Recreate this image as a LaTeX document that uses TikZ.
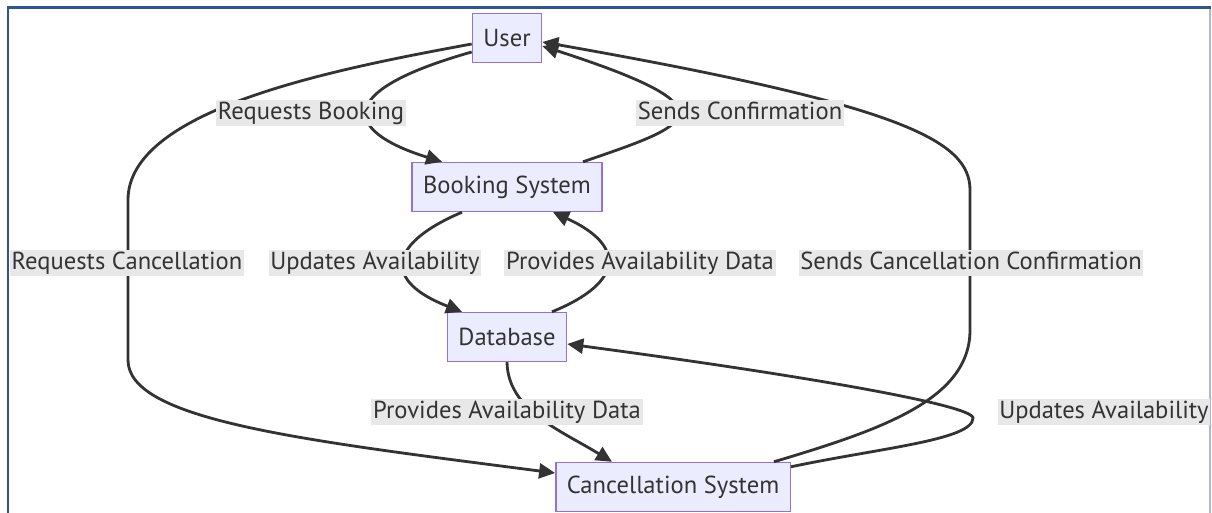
\documentclass[tikz,border=0pt]{standalone}
\usepackage{fontspec}
\setmainfont{PT Sans}
\usetikzlibrary{calc, positioning}
\usetikzlibrary{arrows.meta}

\definecolor{boxfill}{HTML}{ECECFF}
\definecolor{boxline}{HTML}{9370DB}
\definecolor{inkgray}{HTML}{333333}
\definecolor{labelbg}{HTML}{E8E8E8}
\definecolor{frameblue}{HTML}{2F5597}
\definecolor{frameside}{HTML}{AEB8CF}

\tikzset{
  entity/.style={draw=boxline, fill=boxfill, line width=0.8pt, minimum height=0.98cm,
    inner xsep=0.22cm, text=inkgray, font=\fontsize{14}{16}\selectfont},
  flow/.style={draw=inkgray, line width=1.6pt, -{Triangle[length=0.32cm,width=0.3cm]}},
  flowlabel/.style={fill=labelbg, inner xsep=1pt, inner ysep=0pt, minimum height=0.52cm,
    text height=0.33cm, text depth=0.08cm, text=inkgray, font=\fontsize{14}{16}\selectfont}
}

\begin{document}
\begin{tikzpicture}[x=0.02cm,y=-0.02cm]
\useasboundingbox (0,0) rectangle (1212,513);

% frame
\draw[frameside, line width=0.6pt] (1210,8) -- (1210,513);
\draw[frameblue, line width=0.06cm] (8,513) -- (8,8) -- (1211,8);

% entities
\node[entity] (user) at (507,38) {User};
\node[entity] (booking) at (507,187) {Booking System};
\node[entity] (db) at (507,337) {Database};
\node[entity] (cancel) at (673,487) {Cancellation System};

% flows
\draw[flow] ($(user.west)+(0,14)$) .. controls (320,95) and (355,135) .. ($(booking.north)+(-65,0)$);
\draw[flow] ($(booking.north)+(76,0)$) .. controls (690,125) and (740,110) .. ($(user.east)+(0,8)$);
\draw[flow] ($(booking.south)+(-45,0)$) .. controls (385,245) and (385,282) .. ($(db.north)+(-45,0)$);
\draw[flow] ($(db.north)+(45,0)$) .. controls (625,282) and (625,245) .. ($(booking.south)+(46,0)$);
\draw[flow] (db.south) .. controls (508,410) and (560,430) .. ($(cancel.north)+(-61,0)$);
\draw[flow] ($(cancel.north east)+(0,5)$) .. controls (880,448) and (973,440) .. (973,418)
    .. controls (973,405) and (800,375) .. ($(db.east)+(0,7)$);
\draw[flow] ($(cancel.north east)+(-17,0)$) .. controls (880,430) and (970,400) .. (970,330)
    -- (970,190) .. controls (970,140) and (900,105) .. ($(user.east)+(0,4)$);
\draw[flow] ($(user.west)+(0,6)$) .. controls (330,70) and (128,110) .. (128,200)
    -- (128,360) .. controls (128,420) and (300,440) .. ($(cancel.west)+(0,-14)$);

% flow labels
\node[flowlabel] (reqbook) at (311,113) {Requests Booking};
\node[flowlabel] (sendconf) at (740,113) {Sends Confirmation};
\node[flowlabel] (reqcancel) at (127,263) {Requests Cancellation};
\node[flowlabel] (updavail) at (375,263) {Updates Availability};
\node[flowlabel] (provdata) at (640,263) {Provides Availability Data};
\node[flowlabel] (sendcancel) at (971,263) {Sends Cancellation Confirmation};
\node[flowlabel] (provdatab) at (507,412) {Provides Availability Data};
\node[flowlabel] (updavailb) at (1104,412) {Updates Availability};
\end{tikzpicture}
\end{document}
